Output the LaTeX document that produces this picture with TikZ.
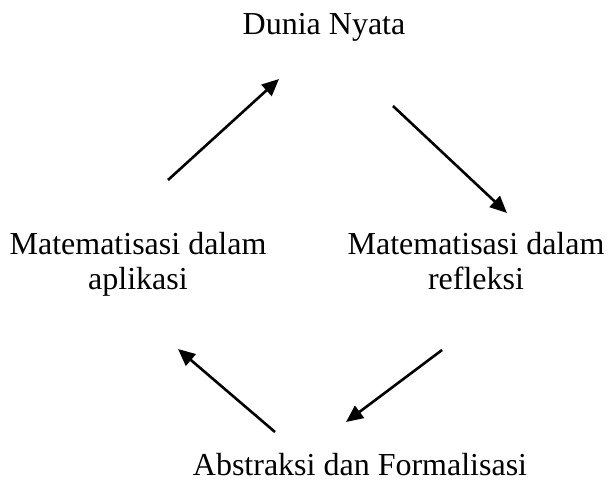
\documentclass[tikz,border=0pt]{standalone}
\usepackage{fontspec}
\setmainfont{Liberation Serif}
\usetikzlibrary{arrows.meta, positioning, calc}

\begin{document}
\begin{tikzpicture}[x=1pt, y=-1pt,
  lbl/.style={font=\fontsize{32}{35}\selectfont, align=center, inner sep=0pt, anchor=base},
  flow/.style={-{Triangle[length=17pt, width=15pt]}, line width=2.6pt}]
  \useasboundingbox (0,0) rectangle (609,481);
  % Stages
  \node[lbl] (dunia) at (324,35) {Dunia Nyata};
  \node[lbl] (refleksi) at (476,289) {Matematisasi dalam\\refleksi};
  \node[lbl] (abstraksi) at (360,475) {Abstraksi dan Formalisasi};
  \node[lbl] (aplikasi) at (138,289) {Matematisasi dalam\\aplikasi};
  % Arrow ends
  \coordinate (a1) at (168,180);  \coordinate (b1) at (279,79);
  \coordinate (a2) at (393,106);  \coordinate (b2) at (507,213);
  \coordinate (a3) at (442,350);  \coordinate (b3) at (346,422);
  \coordinate (a4) at (275,432);  \coordinate (b4) at (178,349);
  % Cycle
  \draw[flow] (a1) -- (b1);
  \draw[flow] (a2) -- (b2);
  \draw[flow] (a3) -- (b3);
  \draw[flow] (a4) -- (b4);
\end{tikzpicture}
\end{document}
